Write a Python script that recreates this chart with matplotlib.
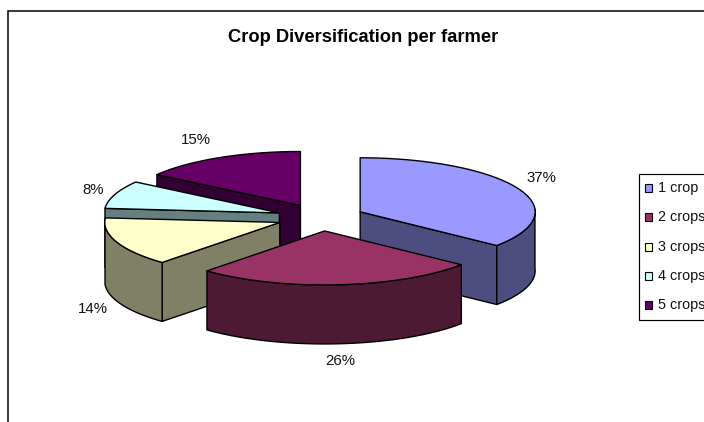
import numpy as np
import matplotlib
matplotlib.use("Agg")
import matplotlib.pyplot as plt
from matplotlib.patches import Polygon, Rectangle

categories = ["1 crop", "2 crops", "3 crops", "4 crops", "5 crops"]
shares = [37, 26, 14, 8, 15]
top_colors = ["#9999FF", "#993366", "#FFFFCC", "#CCFFFF", "#660066"]
side_colors = ["#4D4D80", "#4D1A33", "#808066", "#668080", "#330033"]
label_positions = [(541, 178), (340, 361), (93, 309), (93, 190), (196, 140)]
legend_rows = [188, 217, 247, 276, 305]
draw_order = [4, 0, 3, 2, 1]

CENTER = (320.5, 217.5)
RX, RY = 175.0, 54.0
DEPTH = 59.0
EXPLODE = 0.25
LEAN = 5.4
EDGE = 1.0

plt.rcParams["font.family"] = ["Liberation Sans", "DejaVu Sans"]
fig = plt.figure(figsize=(7.04, 4.22), dpi=100)
ax = fig.add_axes([0, 0, 1, 1])
ax.set_xlim(0, 704)
ax.set_ylim(422, 0)
ax.axis("off")


def view_angle(deg):
    # The projection leans slightly, pulling the front of the pie to the left.
    deg = np.asarray(deg, dtype=float)
    return deg - LEAN * (1 - np.cos(np.radians(deg))) / 2


def rim(deg, origin):
    t = np.radians(view_angle(deg))
    return np.column_stack((origin[0] + RX * np.sin(t), origin[1] - RY * np.cos(t)))


def drop(points):
    return np.asarray(points) + [0, DEPTH]


def wall(points, color, z):
    outline = np.vstack((points, drop(points)[::-1]))
    ax.add_patch(Polygon(outline, closed=True, facecolor=color, edgecolor="black",
                         linewidth=EDGE, joinstyle="round", zorder=z))


edges = np.cumsum([0] + shares) * 3.6
for layer, i in enumerate(draw_order):
    a0, a1 = edges[i], edges[i + 1]
    mid = np.radians(view_angle((a0 + a1) / 2))
    origin = (CENTER[0] + EXPLODE * RX * np.sin(mid),
              CENTER[1] - EXPLODE * RY * np.cos(mid))
    apex = np.array([origin])
    arc = rim(np.linspace(a0, a1, 90), origin)
    z = 2 + layer

    # Side faces: only those turned towards the viewer are drawn.
    if np.cos(np.radians(a0 - 90)) < 0:
        wall(np.vstack((apex, rim([a0], origin))), side_colors[i], z)
    if np.cos(np.radians(a1 + 90)) < -1e-6:
        wall(np.vstack((apex, rim([a1], origin))), side_colors[i], z)
    lo, hi = max(a0, 90.0), min(a1, 270.0)
    if hi > lo:
        wall(rim(np.linspace(lo, hi, 70), origin), side_colors[i], z)

    ax.add_patch(Polygon(np.vstack((apex, arc)), closed=True, facecolor=top_colors[i],
                         edgecolor="black", linewidth=EDGE, joinstyle="round", zorder=z))

for (x, y), share in zip(label_positions, shares):
    ax.text(x, y, f"{share}%", ha="center", va="center", fontsize=10.8,
            color="#111111", zorder=20)

ax.text(363.5, 38, "Crop Diversification per farmer", ha="center", va="center",
        fontsize=13.2, fontweight="bold", color="black", zorder=20)

# Chart frame runs off the right and bottom of the canvas.
ax.plot([8, 8, 704], [422, 10.5, 10.5], color="black", linewidth=1.1,
        solid_joinstyle="miter", zorder=1, clip_on=False)

# Legend box and entries.
ax.add_patch(Rectangle((638.5, 173.5), 80, 146, facecolor="white", edgecolor="black",
                       linewidth=0.85, zorder=10))
for name, color, y in zip(categories, top_colors, legend_rows):
    ax.add_patch(Rectangle((644.5, y - 4), 7.5, 8, facecolor=color, edgecolor="black",
                           linewidth=0.8, zorder=11))
    ax.text(657.5, y, name, ha="left", va="center", fontsize=10.4, color="#111111", zorder=11)

fig.savefig("out.png", dpi=100, facecolor="white")
